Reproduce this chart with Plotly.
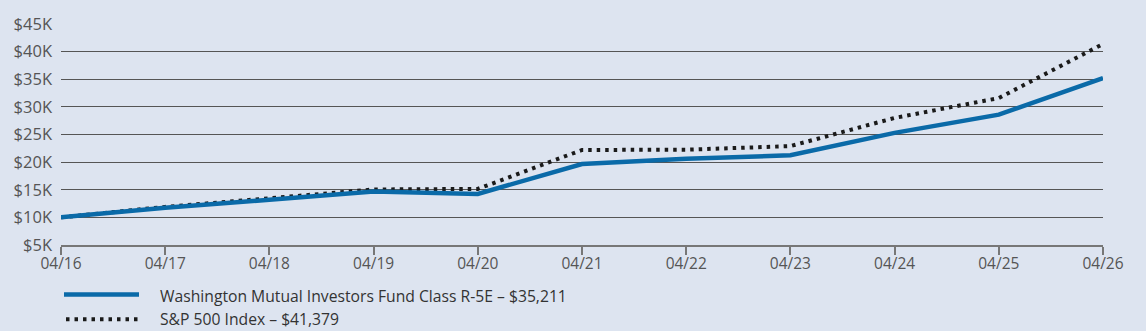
import plotly.graph_objects as go

periods = ["04/16", "04/17", "04/18", "04/19", "04/20", "04/21", "04/22", "04/23", "04/24", "04/25", "04/26"]
fund_values = [10000, 11750, 13200, 14700, 14250, 19650, 20600, 21250, 25300, 28600, 35211]
sp500_values = [10000, 11900, 13450, 15050, 15150, 22200, 22250, 22900, 28000, 31600, 41379]
fund_name = "Washington Mutual Investors Fund Class R-5E – $35,211"
index_name = "S&P 500 Index – $41,379"
y_ticks = [5000, 10000, 15000, 20000, 25000, 30000, 35000, 40000, 45000]
y_tick_labels = ["$5K", "$10K", "$15K", "$20K", "$25K", "$30K", "$35K", "$40K", "$45K"]

BG = "#dde4f0"
BLUE = "#0a6aa8"
DOT = "#1a1a1a"
FONT = "Open Sans"
DOT_DASH = "3.5px,5px"

x_idx = list(range(len(periods)))

fig = go.Figure()
fig.add_trace(go.Scatter(x=x_idx, y=sp500_values, mode="lines", name=index_name,
                         line=dict(color=DOT, width=4, dash=DOT_DASH), showlegend=False))
fig.add_trace(go.Scatter(x=x_idx, y=fund_values, mode="lines", name=fund_name,
                         line=dict(color=BLUE, width=4.5), showlegend=False))

fig.update_layout(
    width=1146, height=331,
    margin=dict(l=61, r=43, t=22, b=86),
    paper_bgcolor=BG, plot_bgcolor=BG,
    font=dict(family=FONT, size=15, color="#555555"),
    showlegend=False,
)
fig.update_xaxes(
    range=[0, len(periods) - 1], tickvals=x_idx, ticktext=periods,
    showgrid=False, zeroline=False,
    showline=True, linecolor="#777777", linewidth=1.5,
    ticks="outside", ticklen=8, tickwidth=1.5, tickcolor="#777777",
    ticklabelstandoff=-4,
    tickfont=dict(size=15.5, color="#555555"),
)
fig.update_yaxes(
    range=[5000, 45000], tickvals=y_ticks, ticktext=y_tick_labels,
    showgrid=True, gridcolor="#555555", gridwidth=1.2,
    zeroline=False, showline=False, ticks="", ticklabelstandoff=8,
    tickfont=dict(size=16.5, color="#555555"),
)

# Custom legend
def py(y):
    return -(y - 245) / 223

def px(x):
    return (x - 61) / 1042

fig.add_shape(type="line", xref="paper", yref="paper",
              x0=px(64), x1=px(139), y0=py(295), y1=py(295),
              line=dict(color=BLUE, width=4.5))
fig.add_shape(type="line", xref="paper", yref="paper",
              x0=px(66), x1=px(142), y0=py(320), y1=py(320),
              line=dict(color=DOT, width=4, dash=DOT_DASH))
fig.add_annotation(xref="paper", yref="paper", x=px(158), y=py(296),
                   text=fund_name, showarrow=False, xanchor="left", yanchor="middle",
                   font=dict(family=FONT, size=15.7, color="#333333"))
fig.add_annotation(xref="paper", yref="paper", x=px(158), y=py(320),
                   text=index_name, showarrow=False, xanchor="left", yanchor="middle",
                   font=dict(family=FONT, size=15.7, color="#333333"))

fig.write_html("out.html")
